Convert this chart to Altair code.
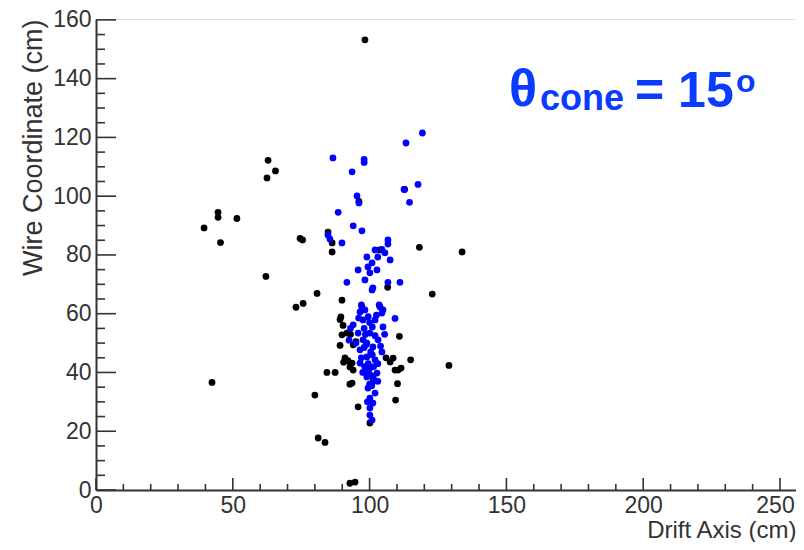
import altair as alt
import pandas as pd

# ---- data ----
black_x = [98.3, 62.9, 65.6, 62.5, 44.6, 44.6, 51.5, 39.5, 45.5, 74.6, 75.5, 84.8, 86.3, 86.3,
           62.1, 118.2, 133.8, 122.9, 73.1, 75.7, 80.8, 89.9, 89.2, 90.3, 91.7, 89.9, 89.2, 94.0,
           92.1, 93.6, 92.8, 94.0, 84.4, 87.4, 93.6, 92.8, 95.8, 80.0, 81.2, 83.7, 92.8, 94.7,
           42.4, 100.1, 110.9, 107.5, 108.6, 109.3, 110.4, 115.0, 129.0, 110.2, 109.5, 103.8,
           106.6, 112.8, 96.1, 89.5, 91.0, 90.5, 93.0, 95.0, 106.0, 111.5]
black_y = [153.2, 112.2, 108.6, 106.2, 94.5, 92.8, 92.4, 89.2, 84.2, 85.6, 85.1, 87.8, 84.1, 81.0,
           72.7, 82.6, 81.0, 66.7, 62.2, 63.5, 66.9, 64.6, 58.0, 56.0, 53.4, 52.8, 49.2, 49.4,
           44.0, 43.2, 41.9, 40.8, 40.0, 40.0, 36.4, 36.0, 28.3, 32.3, 17.7, 16.2, 2.3, 2.7,
           36.6, 22.8, 52.3, 43.6, 44.9, 40.8, 40.8, 44.3, 42.4, 36.2, 30.6, 81.7,
           69.0, 102.3, 98.2, 58.9, 45.0, 43.5, 53.0, 50.5, 45.0, 41.5]

blue_x = [119.3, 113.3, 86.6, 98.0, 98.0, 93.6, 117.7, 112.6, 114.6, 95.4, 96.1, 88.5, 94.0, 97.2,
          84.8, 85.5, 89.9, 106.7, 106.7, 102.0, 104.5, 105.6, 99.0, 103.0, 107.5, 100.9, 99.4,
          102.7, 95.8, 100.1, 91.7, 98.3, 101.2, 100.9, 106.7, 111.1, 97.2, 98.3, 103.8, 104.9,
          109.3, 96.5, 104.5, 94.0, 97.6, 102.0, 104.9, 95.8, 100.1, 103.1, 97.6, 101.2, 96.5,
          104.5, 99.0, 102.0, 96.5, 100.1, 102.7, 99.0, 101.2, 99.4, 102.0, 100.1, 101.2, 100.1,
          100.1, 100.9, 97.0, 98.2, 101.0, 103.0, 99.0, 98.0, 102.0, 100.0, 96.0, 98.0, 104.0,
          97.5, 103.0, 100.0, 99.5, 100.5, 101.5, 98.5, 101.0, 99.5, 97.0, 103.5, 95.0, 105.5,
          102.5, 93.0, 92.5, 99.2, 100.8, 99.6, 100.4, 98.8, 101.4]
blue_y = [121.5, 118.1, 113.0, 112.5, 111.5, 108.3, 104.0, 102.3, 97.9, 100.1, 97.7, 94.5, 89.9, 88.2,
          86.8, 85.4, 84.1, 85.1, 83.7, 81.7, 81.9, 80.7, 79.3, 79.3, 78.3, 77.3, 75.9,
          74.9, 74.9, 73.9, 70.7, 71.5, 68.8, 68.1, 70.7, 70.7, 62.3, 61.3, 62.3, 61.3,
          58.4, 60.6, 60.2, 56.2, 57.9, 57.9, 55.5, 53.4, 53.4, 51.1, 51.1, 48.7, 47.7,
          47.0, 45.3, 44.3, 43.2, 41.5, 39.8, 38.5, 36.8, 34.7, 33.0, 31.3, 29.6, 27.9,
          25.5, 23.8, 45.0, 42.0, 46.0, 43.0, 50.0, 55.0, 52.5, 57.0, 58.5, 48.5, 49.0,
          40.0, 37.0, 36.0, 43.0, 39.0, 42.0, 53.0, 55.5, 59.0, 63.0, 63.0, 50.0, 53.0,
          59.5, 55.0, 51.0, 30.0, 35.5, 40.5, 47.0, 49.5, 38.0]

x_major = [0, 50, 100, 150, 200, 250]
x_minor = [v for v in range(10, 251, 10) if v % 50 != 0]
y_major = [0, 20, 40, 60, 80, 100, 120, 140, 160]
y_minor = [v for v in range(5, 161, 5) if v % 20 != 0]

x_title = "Drift Axis (cm)"
y_title = "Wire Coordinate (cm)"
ann_main = "θ"
ann_sub = "cone"
ann_rest = "= 15"
ann_sup = "o"

W, H = 700, 471
FONT = "Liberation Sans"
GREY = "#333333"
TEXT_BLUE = "#0a3cff"

xs = alt.Scale(domain=[0, 255.85], nice=False, zero=False)
ys = alt.Scale(domain=[0, 160.3], nice=False, zero=False)

black_df = pd.DataFrame({"x": black_x, "y": black_y})
blue_df = pd.DataFrame({"x": blue_x, "y": blue_y})

x_axis = alt.Axis(values=x_major, ticks=False, grid=False, domainColor=GREY, domainWidth=2,
                  labelFontSize=23, labelColor=GREY, labelFont=FONT, labelPadding=4,
                  labelFlush=False,
                  labelOffset={"condition": {"test": "datum.value == 250", "value": -5}, "value": 0},
                  title=x_title, titleFont=FONT, titleFontSize=24,
                  titleFontWeight="normal", titleColor=GREY, titleAnchor="end", titleAlign="right",
                  titleX=W, titleY=47, titleBaseline="alphabetic", format="d")
y_axis = alt.Axis(values=y_major, ticks=False, grid=False, domainColor=GREY, domainWidth=2,
                  labelFontSize=23, labelColor=GREY, labelFont=FONT, labelPadding=5,
                  labelFlush=False, title=y_title, titleFont=FONT, titleFontSize=27,
                  titleFontWeight="normal", titleColor=GREY, titleAnchor="end", titleAlign="right",
                  titleX=-55, titleY=0, titleBaseline="alphabetic", titleAngle=270, format="d")


def yticks(vals, length):
    return alt.Chart(pd.DataFrame({"v": vals})).mark_rule(color=GREY, strokeWidth=1.6).encode(
        y=alt.Y("v:Q", scale=ys, axis=y_axis), x=alt.value(0), x2=alt.value(length))


def xticks(vals, length):
    return alt.Chart(pd.DataFrame({"v": vals})).mark_rule(color=GREY, strokeWidth=1.6).encode(
        x=alt.X("v:Q", scale=xs, axis=x_axis), y=alt.value(H), y2=alt.value(H - length))


def points(df, color):
    return alt.Chart(df).mark_circle(size=46, color=color, opacity=1).encode(
        x=alt.X("x:Q", scale=xs, axis=x_axis),
        y=alt.Y("y:Q", scale=ys, axis=y_axis),
    )


def label(txt, px, py, size):
    return alt.Chart(pd.DataFrame({"t": [txt]})).mark_text(
        font=FONT, fontSize=size, fontWeight="bold", color=TEXT_BLUE, align="left",
        baseline="alphabetic").encode(text="t:N", x=alt.value(px), y=alt.value(py))


chart = alt.layer(
    yticks(y_major, 20), yticks(y_minor, 9), xticks(x_major, 12), xticks(x_minor, 6),
    points(black_df, "#000000"), points(blue_df, "#0000ff"),
    label(ann_main, 413, 87, 52),
    label(ann_sub, 444, 91, 36),
    label(ann_rest, 539, 88, 50),
    label(ann_sup, 640, 73, 32),
).properties(
    width=W, height=H,
    autosize=alt.AutoSizeParams(type="none"),
    padding={"left": 88, "top": 11, "right": 0, "bottom": 52},
).configure_view(stroke="#888888", strokeWidth=1.5).configure(background="white")

chart.save("out.html", embed_options={"renderer": "svg", "actions": False})
